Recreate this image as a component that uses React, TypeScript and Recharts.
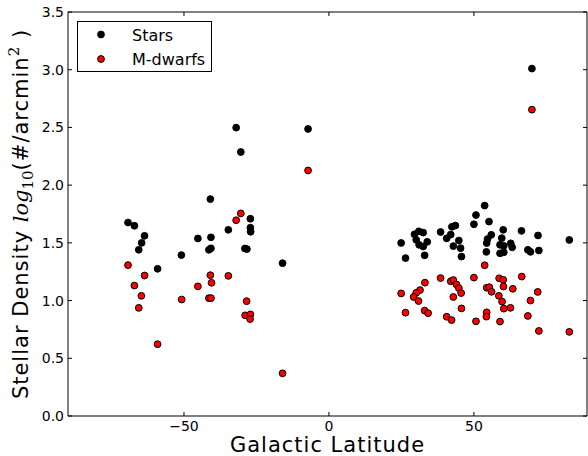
import React from 'react';
import { ScatterChart, Scatter, XAxis, YAxis, ReferenceArea, Legend } from 'recharts';

// Galactic latitude (deg) and log10 stellar density for "Stars"
const STAR_LAT = [
  -69.3, -67.1, -63.6, -64.6, -65.6, -59.1, -50.9, -45.2, -40.7, -40.9, -40.7, -41.4,
  -34.7, -32.0, -30.4, -27.1, -27.1, -27.0, -29.0, -28.3, -16.0, -7.2, 70.0,
  24.9, 26.4, 29.5, 31.0, 32.5, 30.1, 31.1, 33.9, 32.5, 33.0, 38.5, 40.6, 42.4, 43.6,
  42.0, 42.9, 44.8, 45.4, 45.7, 50.0, 50.7, 53.7, 55.2, 56.0, 54.7, 54.4, 54.3, 60.1,
  59.6, 59.0, 60.3, 62.7, 63.2, 59.0, 60.3, 66.4, 68.6, 69.5, 72.1, 72.4, 82.9,
];
const STAR_DENS = [
  1.676, 1.648, 1.561, 1.5, 1.44, 1.275, 1.394, 1.538, 1.548, 1.879, 1.453, 1.44,
  1.613, 2.498, 2.287, 1.709, 1.631, 1.596, 1.451, 1.446, 1.324, 2.487, 3.01,
  1.499, 1.368, 1.574, 1.6, 1.589, 1.526, 1.483, 1.509, 1.468, 1.392, 1.594, 1.539, 1.639, 1.65,
  1.572, 1.472, 1.52, 1.454, 1.381, 1.661, 1.741, 1.823, 1.684, 1.57, 1.533, 1.498, 1.422, 1.613,
  1.541, 1.483, 1.474, 1.496, 1.461, 1.409, 1.418, 1.604, 1.44, 1.422, 1.564, 1.434, 1.525,
];

// Galactic latitude (deg) and log10 density for "M-dwarfs"
const MDWARF_LAT = [
  -69.3, -67.1, -63.6, -64.7, -65.6, -59.1, -50.8, -45.2, -40.9, -40.5, -41.4, -40.7,
  -34.7, -32.0, -30.4, -28.4, -28.9, -27.1, -27.2, -16.0, -7.2, 70.0,
  24.9, 26.4, 33.1, 31.4, 30.1, 29.2, 30.9, 33.0, 34.2, 38.5, 42.0, 42.9, 44.0, 44.8,
  45.6, 42.9, 45.7, 40.6, 42.3, 50.0, 53.7, 54.4, 55.3, 56.1, 58.7, 60.1, 60.2, 63.4,
  58.6, 59.7, 60.3, 62.6, 54.4, 54.3, 50.7, 59.0, 66.5, 72.0, 69.5, 68.6, 72.4, 82.9,
];
const MDWARF_DENS = [
  1.307, 1.13, 1.217, 1.041, 0.937, 0.622, 1.009, 1.123, 1.22, 1.154, 1.021, 1.021,
  1.214, 1.696, 1.755, 0.995, 0.872, 0.88, 0.84, 0.37, 2.127, 2.654,
  1.062, 0.895, 1.155, 1.091, 1.067, 1.031, 0.996, 0.913, 0.891, 1.195, 1.167, 1.178, 1.139, 1.108,
  1.065, 1.031, 0.932, 0.86, 0.831, 1.199, 1.306, 1.111, 1.116, 1.076, 1.193, 1.18, 1.122, 1.102,
  1.041, 0.991, 0.93, 0.937, 0.898, 0.861, 0.82, 0.818, 1.208, 1.075, 1.0, 0.867, 0.737, 0.729,
];

const X_TICKS = [-50, 0, 50];
const Y_TICKS = [0, 0.5, 1, 1.5, 2, 2.5, 3, 3.5];
const X_DOMAIN: [number, number] = [-90, 89];
const Y_DOMAIN: [number, number] = [0, 3.5];

const SERIES = [
  { name: 'Stars', color: '#000000' },
  { name: 'M-dwarfs', color: '#ff0000' },
];

const PLOT_W = 519;
const PLOT_H = 404;
const TICK_LEN = 4;
const SANS = '"DejaVu Sans", sans-serif';
const SERIF = '"DejaVu Serif", serif';

const stars = STAR_LAT.map((x, i) => ({ x, y: STAR_DENS[i] }));
const mdwarfs = MDWARF_LAT.map((x, i) => ({ x, y: MDWARF_DENS[i] }));

const fmtX = (v: number) => (v < 0 ? '\u2212' + Math.abs(v) : String(v));

const XTick = (props: any) => {
  const { x, y, payload } = props;
  return (
    <g>
      <line x1={x} x2={x} y1={y} y2={y - TICK_LEN} stroke="#000" strokeWidth={1} />
      <line x1={x} x2={x} y1={y - PLOT_H} y2={y - PLOT_H + TICK_LEN} stroke="#000" strokeWidth={1} />
      <text x={x} y={y + 15} textAnchor="middle" fontFamily={SANS} fontSize={14} fill="#000">
        {fmtX(payload.value)}
      </text>
    </g>
  );
};

const YTick = (props: any) => {
  const { x, y, payload } = props;
  return (
    <g>
      <line x1={x} x2={x + TICK_LEN} y1={y} y2={y} stroke="#000" strokeWidth={1} />
      <line x1={x + PLOT_W - TICK_LEN} x2={x + PLOT_W} y1={y} y2={y} stroke="#000" strokeWidth={1} />
      <text x={x - 4} y={y + 5} textAnchor="end" fontFamily={SANS} fontSize={14} fill="#000">
        {Number(payload.value).toFixed(1)}
      </text>
    </g>
  );
};

const XTitle = (props: any) => {
  const vb = props.viewBox || { x: 68, y: 416, width: PLOT_W, height: 40 };
  const cx = vb.x + vb.width / 2;
  return (
    <text x={cx} y={vb.y + 36} textAnchor="middle" fontFamily={SANS} fontSize={21} letterSpacing={1} fill="#000">
      Galactic Latitude
    </text>
  );
};

const YTitle = (props: any) => {
  const vb = props.viewBox || { x: 0, y: 12, width: 68, height: PLOT_H };
  const cx = 28;
  const cy = vb.y + vb.height / 2;
  return (
    <text
      x={cx}
      y={cy}
      transform={`rotate(-90, ${cx}, ${cy})`}
      textAnchor="middle"
      fontFamily={SANS}
      fontSize={21}
      letterSpacing={1}
      fill="#000"
    >
      <tspan>Stellar Density </tspan>
      <tspan fontFamily={SERIF} fontStyle="italic" letterSpacing={0}>log</tspan>
      <tspan fontFamily={SERIF} fontSize={15} dy={5} letterSpacing={0}>10</tspan>
      <tspan dy={-5}>(#/arcmin</tspan>
      <tspan fontFamily={SERIF} fontSize={15} dy={-9}>2</tspan>
      <tspan dy={9}> )</tspan>
    </text>
  );
};

const Dot = (color: string) => (p: any) => (
  <circle cx={p.cx} cy={p.cy} r={3.4} fill={color} stroke="#000" strokeWidth={1} />
);

const LegendBox = () => (
  <div
    style={{
      width: 135,
      height: 51,
      boxSizing: 'border-box',
      border: '1px solid #000',
      background: '#fff',
    }}
  >
    <svg width={133} height={49} style={{ display: 'block' }}>
      {SERIES.map((s, i) => (
        <g key={s.name}>
          <circle cx={23} cy={12.5 + i * 24.5} r={3.4} fill={s.color} stroke="#000" strokeWidth={1} />
          <text x={54} y={18.5 + i * 24.5} fontFamily={SANS} fontSize={16} fill="#000">
            {s.name}
          </text>
        </g>
      ))}
    </svg>
  </div>
);

export default function App() {
  return (
    <div style={{ position: 'absolute', left: 0, top: 0, background: '#fff' }}>
      <ScatterChart width={588} height={456} margin={{ top: 12, right: 1, bottom: 0, left: 0 }}>
        <XAxis
          dataKey="x"
          type="number"
          domain={X_DOMAIN}
          ticks={X_TICKS}
          interval={0}
          allowDataOverflow
          axisLine={false}
          tickLine={false}
          tickSize={0}
          tickMargin={0}
          height={40}
          tick={<XTick />}
          label={<XTitle />}
        />
        <YAxis
          dataKey="y"
          type="number"
          domain={Y_DOMAIN}
          ticks={Y_TICKS}
          interval={0}
          allowDataOverflow
          axisLine={false}
          tickLine={false}
          tickSize={0}
          tickMargin={0}
          width={68}
          tick={<YTick />}
          label={<YTitle />}
        />
        <ReferenceArea
          x1={X_DOMAIN[0]}
          x2={X_DOMAIN[1]}
          y1={Y_DOMAIN[0]}
          y2={Y_DOMAIN[1]}
          fill="none"
          fillOpacity={0}
          stroke="#000"
          strokeWidth={1}
          strokeOpacity={1}
        />
        <Scatter name={SERIES[0].name} data={stars} fill={SERIES[0].color} shape={Dot(SERIES[0].color)} isAnimationActive={false} />
        <Scatter name={SERIES[1].name} data={mdwarfs} fill={SERIES[1].color} shape={Dot(SERIES[1].color)} isAnimationActive={false} />
        <Legend
          layout="vertical"
          align="center"
          verticalAlign="middle"
          content={<LegendBox />}
          wrapperStyle={{ left: 77, top: 21, width: 135, height: 51, right: 'auto', bottom: 'auto' }}
        />
      </ScatterChart>
    </div>
  );
}
